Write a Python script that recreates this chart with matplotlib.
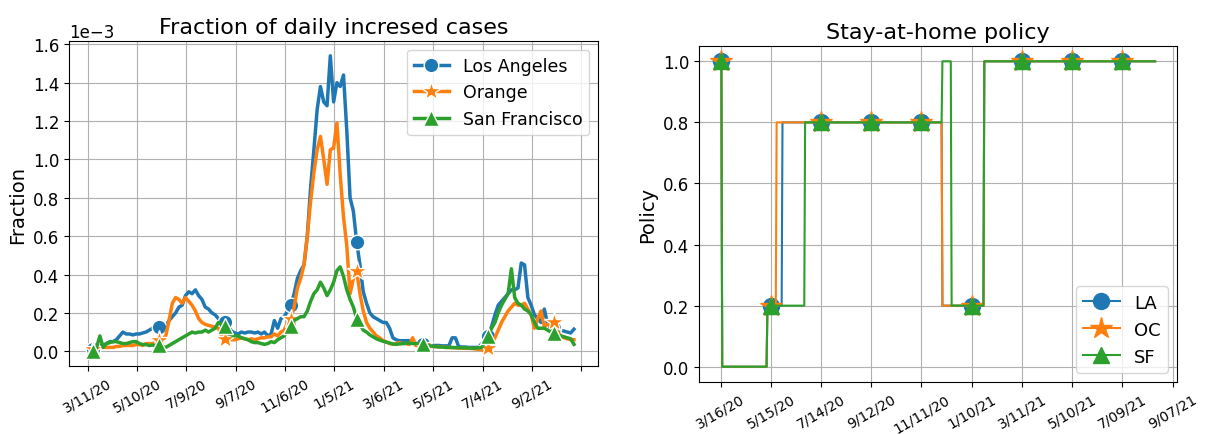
import numpy as np
import matplotlib.pyplot as plt

# ---- left panel: fraction of daily increased cases (values in 1e-3), sampled every 4 days
days = np.arange(7, 592, 4)
la_frac = [0.01, 0.02, 0.03, 0.03, 0.04, 0.05, 0.05, 0.06, 0.08, 0.10,
           0.09, 0.09, 0.085, 0.09, 0.09, 0.095, 0.10, 0.11, 0.12, 0.12,
           0.125, 0.10, 0.13, 0.16, 0.18, 0.20, 0.23, 0.24, 0.29, 0.31,
           0.30, 0.32, 0.29, 0.27, 0.23, 0.22, 0.20, 0.19, 0.17, 0.16,
           0.15, 0.13, 0.105, 0.095, 0.09, 0.10, 0.095, 0.10, 0.10, 0.095,
           0.10, 0.09, 0.10, 0.08, 0.09, 0.16, 0.12, 0.17, 0.18, 0.21,
           0.24, 0.30, 0.38, 0.42, 0.45, 0.60, 0.85, 1.05, 1.26, 1.38,
           1.30, 1.28, 1.54, 1.30, 1.40, 1.38, 1.44, 1.15, 0.80, 0.73,
           0.57, 0.45, 0.31, 0.25, 0.20, 0.18, 0.17, 0.16, 0.15, 0.15,
           0.12, 0.07, 0.06, 0.055, 0.055, 0.055, 0.055, 0.05, 0.045, 0.045,
           0.04, 0.03, 0.03, 0.03, 0.03, 0.03, 0.028, 0.028, 0.028, 0.07,
           0.07, 0.024, 0.022, 0.022, 0.02, 0.02, 0.02, 0.02, 0.04, 0.06,
           0.08, 0.13, 0.19, 0.24, 0.26, 0.28, 0.30, 0.32, 0.32, 0.33,
           0.46, 0.45, 0.28, 0.24, 0.19, 0.17, 0.15, 0.22, 0.14, 0.13,
           0.12, 0.11, 0.11, 0.105, 0.10, 0.095, 0.115]
oc_frac = [0.01, 0.015, 0.02, 0.02, 0.02, 0.02, 0.02, 0.025, 0.025, 0.03,
           0.03, 0.03, 0.03, 0.035, 0.035, 0.03, 0.04, 0.04, 0.04, 0.045,
           0.06, 0.06, 0.08, 0.16, 0.25, 0.28, 0.27, 0.25, 0.28, 0.26,
           0.24, 0.21, 0.17, 0.15, 0.14, 0.135, 0.13, 0.125, 0.12, 0.08,
           0.065, 0.06, 0.06, 0.06, 0.065, 0.07, 0.065, 0.06, 0.065, 0.06,
           0.065, 0.07, 0.07, 0.075, 0.075, 0.09, 0.08, 0.10, 0.11, 0.15,
           0.17, 0.23, 0.33, 0.38, 0.45, 0.60, 0.78, 0.93, 1.05, 1.12,
           1.00, 0.87, 1.05, 1.06, 1.19, 0.92, 0.70, 0.55, 0.30, 0.38,
           0.42, 0.30, 0.21, 0.15, 0.12, 0.10, 0.08, 0.07, 0.055, 0.05,
           0.04, 0.036, 0.04, 0.045, 0.04, 0.04, 0.035, 0.07, 0.03, 0.03,
           0.03, 0.028, 0.026, 0.025, 0.024, 0.024, 0.022, 0.02, 0.02, 0.018,
           0.018, 0.016, 0.016, 0.015, 0.015, 0.014, 0.012, 0.01, 0.008, 0.0,
           0.015, 0.04, 0.07, 0.11, 0.15, 0.18, 0.21, 0.23, 0.25, 0.24,
           0.24, 0.25, 0.22, 0.19, 0.12, 0.17, 0.21, 0.13, 0.14, 0.13,
           0.15, 0.10, 0.08, 0.07, 0.065, 0.06, 0.06]
sf_frac = [0.0, 0.02, 0.08, 0.02, 0.04, 0.045, 0.05, 0.05, 0.045, 0.04,
           0.04, 0.045, 0.05, 0.05, 0.04, 0.035, 0.035, 0.03, 0.032, 0.03,
           0.03, 0.025, 0.02, 0.03, 0.04, 0.05, 0.06, 0.07, 0.08, 0.09,
           0.10, 0.095, 0.10, 0.10, 0.11, 0.10, 0.11, 0.12, 0.15, 0.14,
           0.13, 0.09, 0.085, 0.08, 0.08, 0.07, 0.065, 0.06, 0.05, 0.045,
           0.045, 0.04, 0.036, 0.04, 0.05, 0.045, 0.06, 0.07, 0.08, 0.11,
           0.13, 0.16, 0.17, 0.18, 0.18, 0.21, 0.26, 0.30, 0.32, 0.36,
           0.33, 0.29, 0.32, 0.36, 0.42, 0.44, 0.39, 0.32, 0.27, 0.23,
           0.17, 0.14, 0.11, 0.10, 0.085, 0.075, 0.065, 0.058, 0.052, 0.047,
           0.043, 0.038, 0.036, 0.038, 0.04, 0.042, 0.042, 0.04, 0.04, 0.04,
           0.04, 0.035, 0.03, 0.026, 0.024, 0.022, 0.022, 0.02, 0.02, 0.02,
           0.019, 0.019, 0.018, 0.018, 0.017, 0.016, 0.016, 0.018, 0.02, 0.05,
           0.08, 0.12, 0.15, 0.20, 0.24, 0.27, 0.30, 0.43, 0.28, 0.25,
           0.24, 0.22, 0.21, 0.19, 0.15, 0.12, 0.12, 0.12, 0.11, 0.10,
           0.094, 0.085, 0.08, 0.075, 0.07, 0.065, 0.036]
left_ticks = ['3/11/20', '5/10/20', '7/9/20', '9/7/20', '11/6/20', '1/5/21',
              '3/6/21', '5/5/21', '7/4/21', '9/2/21', '']

# ---- right panel: stay-at-home policy, piecewise constant (start day, value)
n_days = 520
la_start = [0, 2, 56, 74, 265, 315]
la_val = [1.0, 0.0, 0.2, 0.8, 0.2, 1.0]
oc_start = [0, 2, 56, 67, 265, 315]
oc_val = [1.0, 0.0, 0.2, 0.8, 0.2, 1.0]
sf_start = [0, 2, 56, 101, 265, 276, 315]
sf_val = [1.0, 0.0, 0.2, 0.8, 1.0, 0.2, 1.0]
right_ticks = ['3/16/20', '5/15/20', '7/14/20', '9/12/20', '11/11/20', '1/10/21',
               '3/11/21', '5/10/21', '7/09/21', '9/07/21']


def daily(starts, vals):
    return np.repeat(vals, np.diff(starts + [n_days]))


fig = plt.figure(figsize=(12.09, 4.35), dpi=100)
ax1 = fig.add_axes([0.0573, 0.1563, 0.4373, 0.747])
ax2 = fig.add_axes([0.578, 0.1195, 0.3954, 0.7724])

kw = dict(lw=2.5, markevery=20, mec='w')
ax1.plot(days, np.array(la_frac) * 1e-3, marker='o', ms=10.5, label='Los Angeles', **kw)
ax1.plot(days, np.array(oc_frac) * 1e-3, marker='*', ms=15, label='Orange', **kw)
ax1.plot(days, np.array(sf_frac) * 1e-3, marker='^', ms=11, label='San Francisco', **kw)
ax1.set_xticks(np.arange(0, 601, 60))
ax1.set_xticklabels(left_ticks, rotation=30, fontsize=10)
ax1.ticklabel_format(axis='y', style='sci', scilimits=(0, 0))
ax1.tick_params(axis='y', labelsize=12)
ax1.yaxis.get_offset_text().set_fontsize(12)
ax1.set_ylabel('Fraction', fontsize=14)
ax1.set_title('Fraction of daily incresed cases', fontsize=16)
ax1.grid(True)
ax1.legend(loc='upper right', fontsize=12.5)

t = np.arange(n_days)
kw2 = dict(lw=1.5, markevery=60)
ax2.plot(t, daily(la_start, la_val), marker='o', ms=11.5, label='LA', **kw2)
ax2.plot(t, daily(oc_start, oc_val), marker='*', ms=16, label='OC', **kw2)
ax2.plot(t, daily(sf_start, sf_val), marker='^', ms=12, label='SF', **kw2)
ax2.set_xticks(np.arange(0, 541, 60))
ax2.set_xticklabels(right_ticks, rotation=30, fontsize=10)
ax2.tick_params(axis='y', labelsize=12)
ax2.set_ylabel('Policy', fontsize=14)
ax2.set_title('Stay-at-home policy', fontsize=16)
ax2.grid(True)
ax2.legend(loc='lower right', fontsize=13)

fig.savefig('out.png')
